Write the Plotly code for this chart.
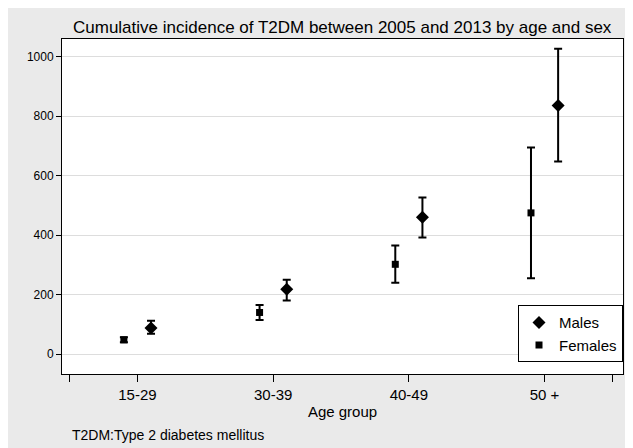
import plotly.graph_objects as go

groups = ["15-29", "30-39", "40-49", "50 +"]
male_val = [88, 218, 460, 836]
male_lo = [68, 180, 392, 648]
male_hi = [112, 250, 527, 1027]
fem_val = [48, 140, 302, 475]
fem_lo = [40, 115, 240, 255]
fem_hi = [57, 165, 365, 695]

pos = [1, 2, 3, 4]
fig = go.Figure()
def add(name, vals, lo, hi, sym, off, size):
    fig.add_trace(go.Scatter(
        x=[p + off for p in pos], y=vals, mode="markers", name=name,
        marker=dict(symbol=sym, color="black", size=size),
        error_y=dict(type="data", symmetric=False,
                     array=[h - v for h, v in zip(hi, vals)],
                     arrayminus=[v - l for v, l in zip(vals, lo)],
                     color="black", thickness=2, width=4)))
add("Males", male_val, male_lo, male_hi, "diamond", 0.1, 10)
add("Females", fem_val, fem_lo, fem_hi, "square", -0.1, 7)

fig.update_layout(
    width=625, height=440,
    margin=dict(l=54, r=10, t=31, b=73.5),
    paper_bgcolor="#eaeaea", plot_bgcolor="white",
    font=dict(family="Liberation Sans, Arial", size=12, color="black"),
    showlegend=True,
    legend=dict(x=1.0, y=0.035, xanchor="right", yanchor="bottom",
                bordercolor="black", borderwidth=1, bgcolor="white",
                font=dict(size=15), traceorder="normal", itemwidth=30,
                tracegroupgap=0),
    xaxis=dict(range=[0.444, 4.578], tickmode="array",
               tickvals=[0.5, 1, 2, 3, 4, 4.5], ticktext=["", *groups, ""],
               ticks="outside", ticklen=7, tickcolor="black",
               showline=True, linecolor="black", mirror=True, showgrid=False, zeroline=False,
               tickfont=dict(size=15),
               title=dict(text="Age group", font=dict(size=15), standoff=4)),
    yaxis=dict(range=[-67, 1060], tickvals=[0, 200, 400, 600, 800, 1000],
               ticks="outside", ticklen=5, tickcolor="black",
               showline=True, linecolor="black", mirror=True, showgrid=True,
               gridcolor="#dddddd", zeroline=False, tickfont=dict(size=12)),
    annotations=[
        dict(text="Cumulative incidence of T2DM between 2005 and 2013 by age and sex",
             xref="paper", yref="paper", x=0.5, y=1.0, yanchor="bottom", xanchor="center",
             showarrow=False, font=dict(size=17)),
        dict(text="T2DM:Type 2 diabetes mellitus", xref="paper", yref="paper",
             x=(70 - 62) / 561, y=(374.5 - 436) / 335.5, xanchor="left", yanchor="middle",
             showarrow=False, font=dict(size=14)),
    ],
)
fig.write_html("out.html")
